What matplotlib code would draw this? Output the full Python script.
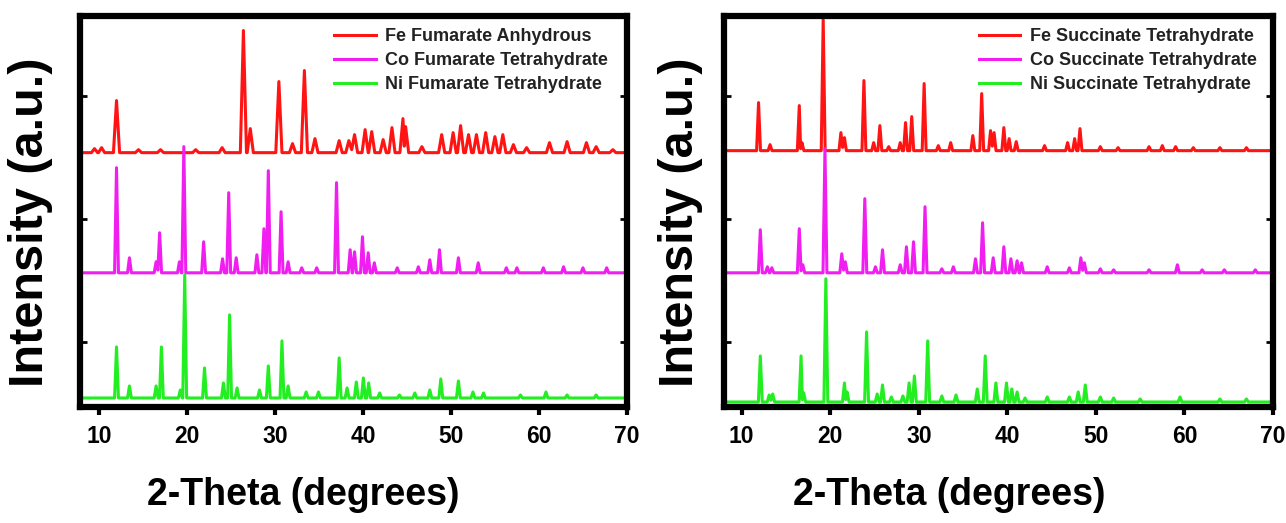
import matplotlib
matplotlib.use("Agg")
import matplotlib.pyplot as plt

plt.rcParams['font.family'] = ['Liberation Sans', 'DejaVu Sans']
plt.rcParams['font.weight'] = 'bold'

# peak positions (2-theta) and heights (a.u.) read from the reference patterns
# --- fumarates (left panel)
fe_fum_pos = [9.5, 10.3, 12.0, 14.5, 17.0, 21.0, 24.0, 26.42, 27.2, 30.45, 32.0, 33.35, 34.55, 37.3, 38.4, 39.05,
              40.25, 41.0, 42.3, 43.3, 44.55, 44.85, 46.7, 48.95, 50.25, 51.1, 52.0, 52.9, 53.95,
              55.0, 55.9, 57.1, 58.6, 61.2, 63.2, 65.4, 66.5, 68.4]
fe_fum_int = [4, 5, 52, 3, 3, 3, 5, 122, 24, 71, 9, 82, 14, 12, 12, 18,
              23, 21, 13, 25, 34, 26, 6, 18, 20, 27, 18, 18, 20,
              16, 18, 8, 5, 10, 11, 10, 6, 3]

co_fum_pos = [12.0, 13.47, 16.5, 16.9, 19.15, 19.65, 21.9, 24.05, 24.75, 25.6, 27.95, 28.75, 29.25,
              30.7, 31.5, 33.05, 34.75, 37.0, 38.55, 39.05, 39.95, 40.6, 41.3, 43.9, 46.3, 47.6,
              48.7, 50.85, 53.1, 56.3, 57.5, 60.5, 62.8, 65.0, 67.7]
co_fum_int = [105, 15, 11, 40, 11, 126, 31, 14, 80, 15, 18, 44, 102,
              61, 11, 5, 5, 90, 23, 21, 36, 20, 10, 5, 6, 13,
              23, 15, 10, 5, 5, 5, 6, 5, 5]

ni_fum_pos = [12.0, 13.47, 16.5, 17.1, 19.25, 19.75, 22.0, 24.15, 24.85, 25.7, 28.25, 29.25, 30.8,
              31.5, 33.55, 34.95, 37.3, 38.2, 39.25, 40.05, 40.65, 41.9, 44.15, 45.9, 47.6, 48.85,
              50.85, 52.5, 53.7, 57.9, 60.8, 63.2, 66.5]
ni_fum_int = [51, 12, 12, 51, 8, 123, 30, 15, 83, 10, 8, 32, 57,
              12, 6, 6, 40, 10, 16, 20, 15, 5, 3, 5, 8, 19,
              17, 6, 5, 3, 6, 3, 3]

# --- succinates (right panel)
fe_suc_pos = [11.9, 13.2, 16.5, 16.8, 19.2, 21.2, 21.6, 23.8, 24.9, 25.6, 26.6, 27.9, 28.5,
              29.2, 30.6, 32.2, 33.6, 36.1, 37.1, 38.1, 38.5, 39.6, 40.2, 41.0, 44.2, 46.8,
              47.6, 48.2, 50.5, 52.5, 56.0, 57.5, 59.0, 61.0, 64.0, 67.0]
fe_suc_int = [48, 6, 45, 8, 131, 18, 13, 70, 8, 25, 4, 8, 28,
              34, 67, 5, 8, 15, 57, 20, 18, 23, 12, 9, 5, 8,
              12, 22, 4, 3, 4, 5, 4, 3, 3, 3]

co_suc_pos = [12.1, 12.9, 13.4, 16.5, 16.9, 19.4, 21.3, 21.7, 23.9, 25.1, 25.9, 27.9, 28.6,
              29.4, 30.7, 32.6, 33.9, 36.4, 37.2, 38.4, 39.6, 40.4, 41.1, 41.6, 44.5, 47.0,
              48.3, 48.7, 50.5, 52.0, 56.0, 59.2, 62.0, 64.5, 68.0]
co_suc_int = [43, 6, 5, 44, 8, 124, 19, 11, 74, 6, 23, 8, 26,
              31, 66, 4, 6, 14, 50, 15, 26, 14, 12, 10, 6, 5,
              15, 10, 4, 3, 3, 8, 3, 3, 3]

ni_suc_pos = [12.1, 13.1, 13.5, 16.7, 17.0, 19.5, 21.6, 21.9, 24.1, 25.3, 25.9, 26.9, 28.2,
              28.9, 29.5, 31.0, 32.6, 34.2, 36.6, 37.5, 38.7, 39.9, 40.5, 41.1, 42.0, 44.5,
              47.0, 48.0, 48.8, 50.5, 52.0, 55.0, 59.5, 64.0, 67.0]
ni_suc_int = [46, 7, 8, 46, 9, 123, 19, 10, 70, 8, 17, 5, 6,
              19, 26, 61, 6, 7, 13, 46, 19, 19, 13, 10, 4, 5,
              5, 10, 17, 5, 4, 3, 5, 3, 3]

# vertical stacking offsets of each pattern
offsets_left = [254, 134, 9]
offsets_right = [256, 134, 5]

labels_left = ["Fe Fumarate Anhydrous", "Co Fumarate Tetrahydrate", "Ni Fumarate Tetrahydrate"]
labels_right = ["Fe Succinate Tetrahydrate", "Co Succinate Tetrahydrate", "Ni Succinate Tetrahydrate"]
colors = ["#ff1414", "#f01ef0", "#22ee22"]
widths_left = [0.35, 0.22, 0.22]
widths_right = [0.22, 0.22, 0.22]


def trace(pos, inten, base, w, lo=7.5, hi=70.5):
    # polyline through the read peaks: each peak is a narrow spike on the baseline
    xs, ys = [lo], [base]
    prev_p, prev_h = None, None
    for p, h in zip(pos, inten):
        if prev_p is not None and p - w <= prev_p + w:
            xs[-1] = (prev_p + p) / 2
            ys[-1] = base + 0.25 * min(prev_h, h)
        elif p - w > xs[-1]:
            xs.append(p - w)
            ys.append(base)
        xs.append(p)
        ys.append(base + h)
        xs.append(p + w)
        ys.append(base)
        prev_p, prev_h = p, h
    xs.append(hi)
    ys.append(base)
    return xs, ys


fig = plt.figure(figsize=(12.86, 5.23), dpi=100)
ax1 = fig.add_axes([0.0622, 0.2218, 0.4253, 0.7467])
ax2 = fig.add_axes([0.5630, 0.2218, 0.4269, 0.7467])

series_left = [(fe_fum_pos, fe_fum_int), (co_fum_pos, co_fum_int), (ni_fum_pos, ni_fum_int)]
series_right = [(fe_suc_pos, fe_suc_int), (co_suc_pos, co_suc_int), (ni_suc_pos, ni_suc_int)]

for ax, series, offs, labels, wids, xmin in [
        (ax1, series_left, offsets_left, labels_left, widths_left, 7.85),
        (ax2, series_right, offsets_right, labels_right, widths_right, 8.0)]:
    for (pos, inten), off, lab, col, w in zip(series, offs, labels, colors, wids):
        xs, ys = trace(pos, inten, off, w)
        ax.plot(xs, ys, color=col, lw=2.2, label=lab)

    ax.set_xlim(xmin, 70)
    ax.set_ylim(0, 390)
    ax.set_xticks([10, 20, 30, 40, 50, 60, 70])
    ax.set_yticks([65, 188, 311])
    ax.set_yticklabels([])
    ax.tick_params(axis='x', direction='out', length=6, width=3, labelsize=16.5, pad=7)
    ax.tick_params(axis='y', direction='in', length=5, width=2, left=True, right=True)
    for lbl in ax.get_xticklabels():
        lbl.set_fontweight('bold')
    for sp in ax.spines.values():
        sp.set_linewidth(4.5)

    ax.set_xlabel("2-Theta (degrees)", fontsize=27, fontweight='bold', va='center')
    ax.set_ylabel("Intensity (a.u.)", fontsize=35, fontweight='bold', va='center')

    leg = ax.legend(loc='upper left', bbox_to_anchor=(0.443, 1.0), frameon=False,
                    prop={'size': 13, 'weight': 'bold'}, handlelength=2.3,
                    handletextpad=0.55, labelspacing=0.38, borderaxespad=0.25)
    for t in leg.get_texts():
        t.set_color('#222222')

ax1.xaxis.set_label_coords(0.408, -0.226)
ax2.xaxis.set_label_coords(0.410, -0.226)
ax1.yaxis.set_label_coords(-0.091, 0.474)
ax2.yaxis.set_label_coords(-0.080, 0.474)

fig.savefig("out.png", dpi=100)
